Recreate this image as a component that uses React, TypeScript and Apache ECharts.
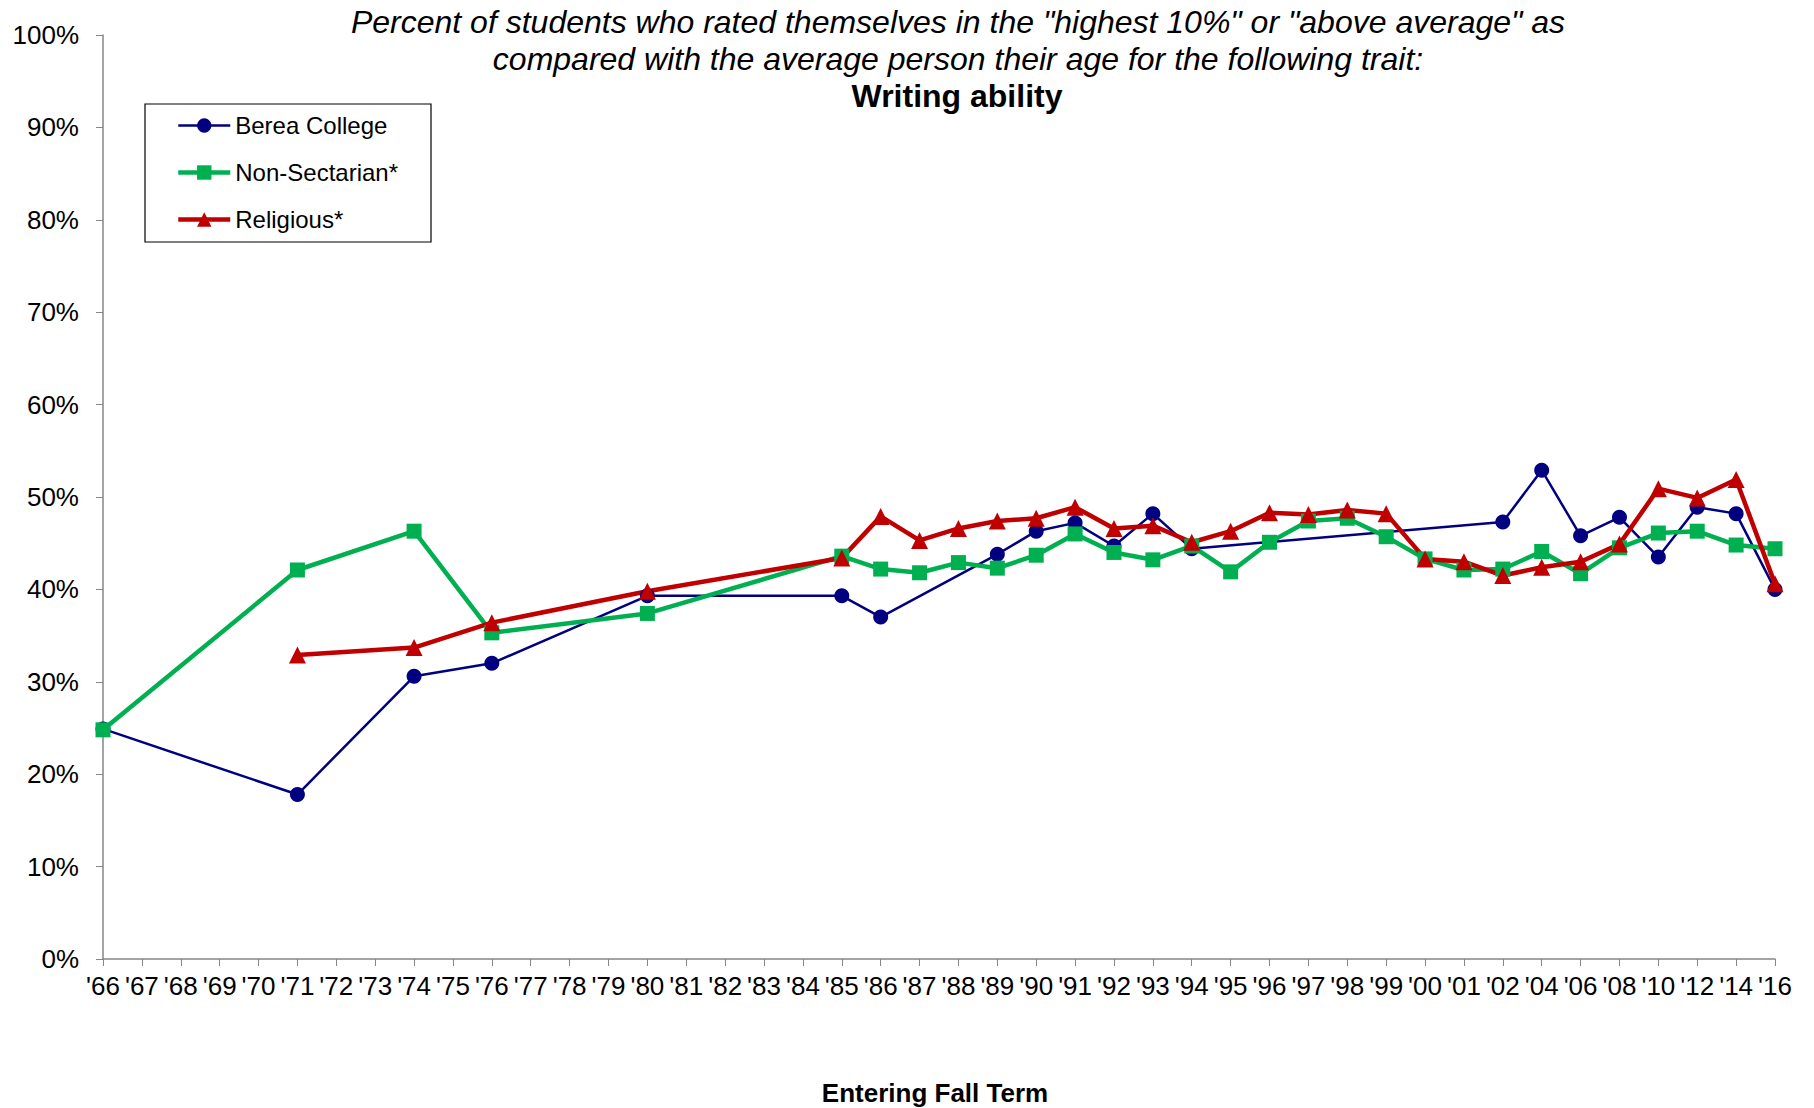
import React, { useEffect, useRef } from "react";
import * as echarts from "echarts";

const categories = [
  "'66", "'67", "'68", "'69", "'70", "'71", "'72", "'73", "'74", "'75",
  "'76", "'77", "'78", "'79", "'80", "'81", "'82", "'83", "'84", "'85",
  "'86", "'87", "'88", "'89", "'90", "'91", "'92", "'93", "'94", "'95",
  "'96", "'97", "'98", "'99", "'00", "'01", "'02", "'04", "'06", "'08",
  "'10", "'12", "'14", "'16",
];

const bereaCollege = [
  24.9, null, null, null, null, 17.8, null, null, 30.6, null,
  32.0, null, null, null, 39.3, null, null, null, null, 39.3,
  37.0, null, null, 43.8, 46.3, 47.2, 44.7, 48.2, 44.4, null,
  null, null, null, null, null, null, 47.3, 52.9, 45.8, 47.8,
  43.5, 48.9, 48.2, 40.0,
];

const nonSectarian = [
  24.8, null, null, null, null, 42.1, null, null, 46.3, null,
  35.3, null, null, null, 37.4, null, null, null, null, 43.6,
  42.2, 41.8, 42.9, 42.3, 43.7, 46.0, 44.0, 43.2, 44.7, 41.9,
  45.1, 47.4, 47.7, 45.7, 43.3, 42.1, 42.2, 44.1, 41.7, 44.5,
  46.1, 46.3, 44.8, 44.4,
];

const religious = [
  null, null, null, null, null, 32.9, null, null, 33.7, null,
  36.4, null, null, null, 39.8, null, null, null, null, 43.4,
  47.9, 45.3, 46.6, 47.4, 47.7, 48.9, 46.6, 46.9, 45.1, 46.3,
  48.3, 48.1, 48.6, 48.2, 43.3, 43.0, 41.5, 42.4, 43.0, 44.9,
  50.9, 49.9, 51.9, 40.6,
];

const titleLines = [
  'Percent of students who rated themselves in the "highest 10%" or "above average" as',
  "compared with the average person their age for the following trait:",
];
const titleBold = "Writing ability";
const xAxisTitle = "Entering Fall Term";

const FONT = "'Liberation Sans', Arial, Helvetica, sans-serif";

const BLUE = "#000080";
const GREEN = "#00B050";
const RED = "#C00000";

export default function App() {
  const ref = useRef<HTMLDivElement>(null);

  useEffect(() => {
    if (!ref.current) return;
    const chart = echarts.init(ref.current, undefined, { renderer: "svg" });
    const textStyle = (extra: any) => ({
      fill: "#000",
      fontFamily: FONT,
      align: "center",
      verticalAlign: "middle",
      textAlign: "center",
      textVerticalAlign: "middle",
      ...extra,
    });
    chart.setOption({
      animation: false,
      backgroundColor: "#fff",
      textStyle: { fontFamily: FONT },
      grid: { left: 103, right: 39, top: 35, bottom: 149, containLabel: false },
      graphic: [
        {
          type: "text",
          x: 958,
          y: 22,
          style: textStyle({ text: titleLines[0], fontSize: 32, fontStyle: "italic" }),
        },
        {
          type: "text",
          x: 958,
          y: 59,
          style: textStyle({ text: titleLines[1], fontSize: 32, fontStyle: "italic" }),
        },
        {
          type: "text",
          x: 957,
          y: 96,
          style: textStyle({ text: titleBold, fontSize: 32, fontWeight: "bold" }),
        },
        {
          type: "text",
          x: 935,
          y: 1093,
          style: textStyle({ text: xAxisTitle, fontSize: 26, fontWeight: "bold" }),
        },
      ],
      legend: {
        left: 145,
        top: 104,
        orient: "vertical",
        padding: [8, 33, 9, 31],
        borderColor: "#000",
        borderWidth: 1.2,
        backgroundColor: "#fff",
        itemWidth: 52,
        itemHeight: 18,
        itemGap: 20,
        textStyle: { fontSize: 24, color: "#000", fontFamily: FONT, lineHeight: 27 },
        data: [
          { name: "Berea College", lineStyle: { width: 2.5, color: BLUE } },
          { name: "Non-Sectarian*", lineStyle: { width: 4.5, color: GREEN } },
          { name: "Religious*", lineStyle: { width: 4.5, color: RED } },
        ],
      },
      xAxis: {
        type: "category",
        data: categories,
        boundaryGap: false,
        axisLine: { lineStyle: { color: "#868686", width: 1.5 } },
        axisTick: { show: true, interval: 0, length: 7, lineStyle: { color: "#868686" } },
        axisLabel: {
          interval: 0,
          fontSize: 26,
          color: "#000",
          margin: 14,
          fontFamily: FONT,
        },
        splitLine: { show: false },
      },
      yAxis: {
        type: "value",
        min: 0,
        max: 100,
        interval: 10,
        axisLine: { show: true, lineStyle: { color: "#868686", width: 1.5 } },
        axisTick: { show: true, length: 7, lineStyle: { color: "#868686" } },
        axisLabel: {
          formatter: "{value}%",
          fontSize: 26,
          color: "#000",
          margin: 24,
          fontFamily: FONT,
        },
        splitLine: { show: false },
      },
      series: [
        {
          name: "Berea College",
          type: "line",
          data: bereaCollege,
          connectNulls: true,
          symbol: "circle",
          symbolSize: 15,
          color: BLUE,
          lineStyle: { width: 2.5, color: BLUE },
          itemStyle: { color: BLUE },
        },
        {
          name: "Non-Sectarian*",
          type: "line",
          data: nonSectarian,
          connectNulls: true,
          symbol: "rect",
          symbolSize: 15,
          color: GREEN,
          lineStyle: { width: 4.5, color: GREEN },
          itemStyle: { color: GREEN },
        },
        {
          name: "Religious*",
          type: "line",
          data: religious,
          connectNulls: true,
          symbol: "triangle",
          symbolSize: 17,
          color: RED,
          lineStyle: { width: 4.5, color: RED },
          itemStyle: { color: RED },
        },
      ],
    });
    return () => chart.dispose();
  }, []);

  return (
    <div
      ref={ref}
      style={{ position: "absolute", left: 0, top: 0, width: 1814, height: 1108, background: "#fff" }}
    />
  );
}
